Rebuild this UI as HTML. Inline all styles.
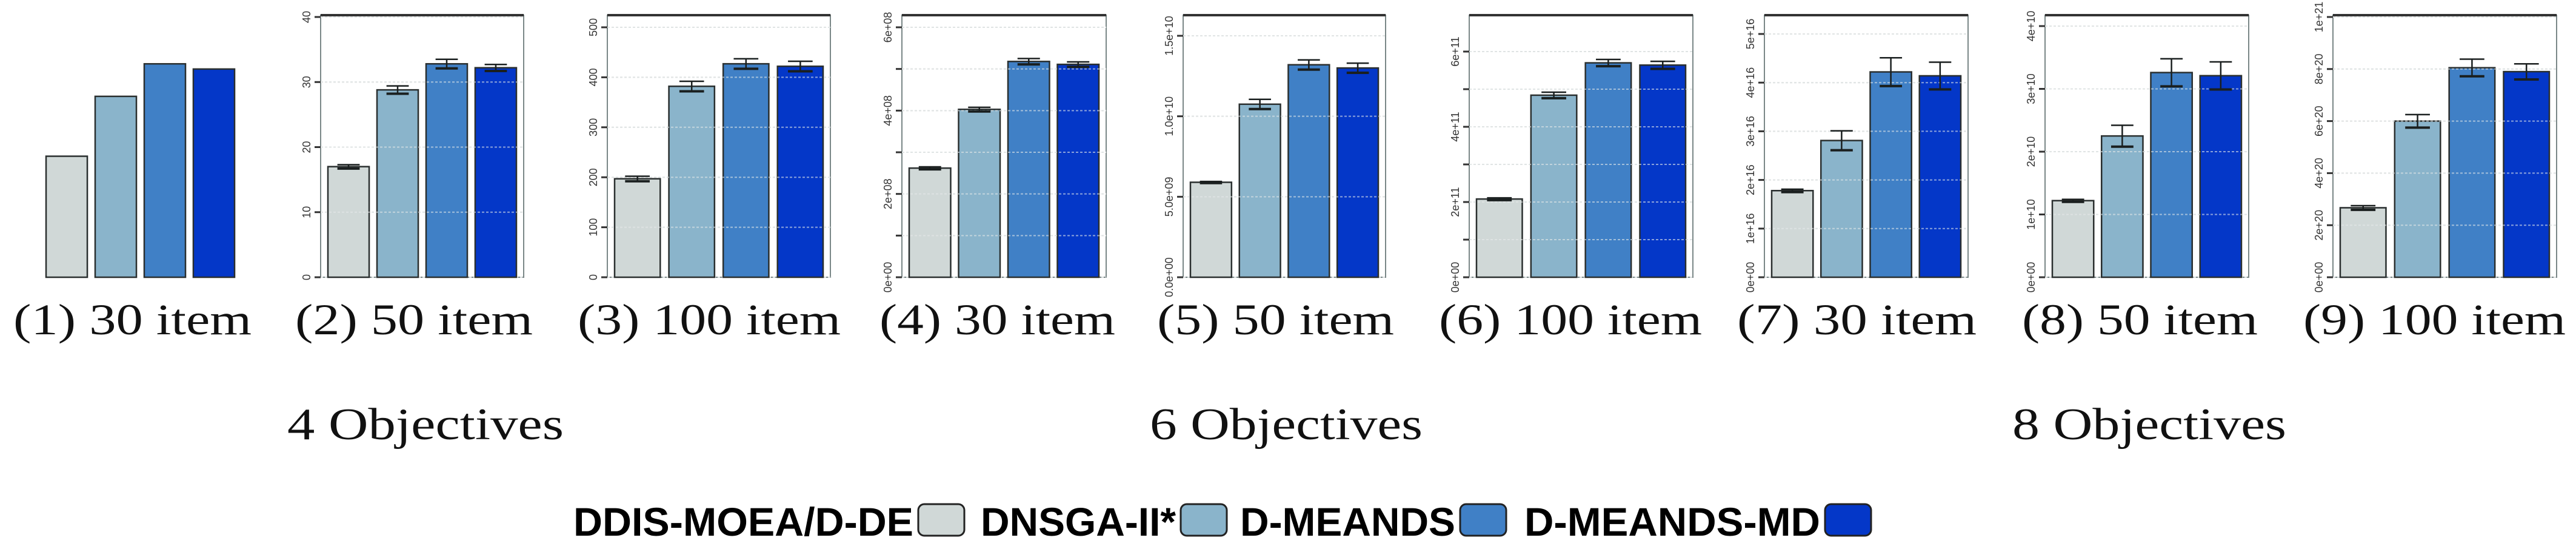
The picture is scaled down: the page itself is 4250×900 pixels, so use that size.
<!DOCTYPE html>
<html><head><meta charset="utf-8"><style>
html,body{margin:0;padding:0;background:#fff;}
svg{display:block;}
</style></head><body>
<svg id="chart" width="4250" height="900" viewBox="0 0 4250 900" xmlns="http://www.w3.org/2000/svg">
<g id="panels"></g>
<g font-family="Liberation Serif, serif" font-size="74" fill="#111">
<text x="474" y="724" textLength="456" lengthAdjust="spacingAndGlyphs">4 Objectives</text>
<text x="1897" y="724" textLength="450" lengthAdjust="spacingAndGlyphs">6 Objectives</text>
<text x="3320" y="724" textLength="452" lengthAdjust="spacingAndGlyphs">8 Objectives</text>
</g>
<g id="legend" font-family="Liberation Sans, sans-serif" font-weight="bold" font-size="66" fill="#000"></g>
</svg>
<script>
const series = ["DDIS-MOEA/D-DE","DNSGA-II*","D-MEANDS","D-MEANDS-MD"];
const colors = ["#d0d8d7","#8ab4cb","#4080c6","#0437c8"];
const captions = ["(1)  30 item","(2)  50 item","(3)  100 item","(4)  30 item","(5)  50 item","(6)  100 item","(7)  30 item","(8)  50 item","(9)  100 item"];
const v1 = [18.6, 27.8, 32.8, 32.0];
const v2 = [17.0, 28.8, 32.8, 32.2];
const e2 = [0.3, 0.6, 0.7, 0.5];
const v3 = [197, 382, 427, 422];
const e3 = [5, 10, 10, 10];
const v4 = [2.62e8, 4.03e8, 5.18e8, 5.11e8];
const e4 = [0.03e8, 0.05e8, 0.07e8, 0.06e8];
const v5 = [5.9e9, 1.075e10, 1.32e10, 1.30e10];
const e5 = [0.05e9, 0.3e9, 0.3e9, 0.3e9];
const v6 = [2.08e11, 4.84e11, 5.7e11, 5.64e11];
const e6 = [0.03e11, 0.08e11, 0.09e11, 0.1e11];
const v7 = [1.78e16, 2.81e16, 4.22e16, 4.14e16];
const e7 = [0.03e16, 0.2e16, 0.29e16, 0.28e16];
const v8 = [1.22e10, 2.25e10, 3.26e10, 3.21e10];
const e8 = [0.02e10, 0.17e10, 0.22e10, 0.22e10];
const v9 = [2.67e20, 6.0e20, 8.05e20, 7.9e20];
const e9 = [0.08e20, 0.25e20, 0.33e20, 0.3e20];
const t2 = [0,10,20,30,40];
const l2 = ["0","10","20","30","40"];
const t3 = [0,100,200,300,400,500];
const l3 = ["0","100","200","300","400","500"];
const t4 = [0,1e8,2e8,3e8,4e8,5e8,6e8];
const l4 = ["0e+00","","2e+08","","4e+08","","6e+08"];
const t5 = [0,5e9,1e10,1.5e10];
const l5 = ["0.0e+00","5.0e+09","1.0e+10","1.5e+10"];
const t6 = [0,1e11,2e11,3e11,4e11,5e11,6e11];
const l6 = ["0e+00","","2e+11","","4e+11","","6e+11"];
const t7 = [0,1e16,2e16,3e16,4e16,5e16];
const l7 = ["0e+00","1e+16","2e+16","3e+16","4e+16","5e+16"];
const t8 = [0,1e10,2e10,3e10,4e10];
const l8 = ["0e+00","1e+10","2e+10","3e+10","4e+10"];
const t9 = [0,2e20,4e20,6e20,8e20,1e21];
const l9 = ["0e+00","2e+20","4e+20","6e+20","8e+20","1e+21"];

const layout = [
 {x0:64,x1:399,top:25,refV:40,refY:28,axes:false,cx:22,cw:393,vals:v1,errs:null,ticks:null,labels:null},
 {x0:529,x1:864,top:25,refV:40,refY:28,axes:true,cx:487,cw:392,vals:v2,errs:e2,ticks:t2,labels:l2},
 {x0:1002,x1:1370,top:25,refV:500,refY:45,axes:true,cx:953,cw:434,vals:v3,errs:e3,ticks:t3,labels:l3},
 {x0:1488,x1:1825,top:25,refV:6e8,refY:45,axes:true,cx:1451,cw:389,vals:v4,errs:e4,ticks:t4,labels:l4},
 {x0:1952,x1:2286,top:25,refV:1.5e10,refY:59,axes:true,cx:1909,cw:391,vals:v5,errs:e5,ticks:t5,labels:l5},
 {x0:2424,x1:2793,top:25,refV:6e11,refY:85,axes:true,cx:2374,cw:434,vals:v6,errs:e6,ticks:t6,labels:l6},
 {x0:2911,x1:3247,top:25,refV:5e16,refY:56,axes:true,cx:2866,cw:395,vals:v7,errs:e7,ticks:t7,labels:l7},
 {x0:3374,x1:3710,top:25,refV:4e10,refY:43,axes:true,cx:3336,cw:389,vals:v8,errs:e8,ticks:t8,labels:l8},
 {x0:3849,x1:4218,top:25,refV:1e21,refY:28,axes:true,cx:3800,cw:433,vals:v9,errs:e9,ticks:t9,labels:l9}
];
const BASE = 457;
const NS = "http://www.w3.org/2000/svg";
function mk(tag, attrs, parent){
  const el = document.createElementNS(NS, tag);
  for (const k in attrs) el.setAttribute(k, attrs[k]);
  parent.appendChild(el);
  return el;
}
const root = document.getElementById('panels');
layout.forEach((p, pi) => {
  const g = mk('g', {}, root);
  
  
  const yS = v => BASE - v * (BASE - p.refY) / p.refV;
  const W = p.x1 - p.x0, pad = 12;
  const bw = (W - 2*pad) / (4 + 3*0.19), gap = bw*0.19;
  const bx = i => p.x0 + pad + i*(bw+gap);
  if (p.axes) {
    const box = mk('rect', {x:p.x0, y:p.top, width:W, height:BASE-p.top, fill:'#fff', stroke:'#7a8787', 'stroke-width':2}, g);
    
    
    const tl = mk('line', {x1:p.x0, x2:p.x1, y1:p.top, y2:p.top, stroke:'#333', 'stroke-width':4}, g);
    
    
    p.ticks.forEach((t, ti) => {
      const y = yS(t);
      const gl = mk('line', {x1:p.x0, x2:p.x1, y1:y, y2:y, stroke:'#d8dcdc', 'stroke-width':2, 'stroke-dasharray':'4 3'}, g);
      
      
      const tk = mk('line', {x1:p.x0-10, x2:p.x0, y1:y, y2:y, stroke:'#333', 'stroke-width':3}, g);
      
      
      if (p.labels[ti]) {
        const tx = mk('text', {x:0, y:0, transform:'translate('+(p.x0-17)+','+y+') rotate(-90)', 'text-anchor':'middle', 'font-family':'Liberation Sans, sans-serif', 'font-size':18, fill:'#333'}, g);
        tx.textContent = p.labels[ti];
        
        
      }
    });
  }
  p.vals.forEach((v, i) => {
    const y = yS(v);
    const r = mk('rect', {x:bx(i), y:y, width:bw, height:BASE-y, fill:colors[i], stroke:'#2a2f2f', 'stroke-width':2.5}, g);
    
    
  });
  if (p.axes) {
    p.ticks.forEach((t) => {
      const y = yS(t);
      if (y >= BASE - 1) return;
      const ol = mk('line', {x1:p.x0, x2:p.x1, y1:y, y2:y, stroke:'#e6eaea', 'stroke-opacity':0.6, 'stroke-width':2, 'stroke-dasharray':'4 3'}, g);
      
      
    });
  }
  p.vals.forEach((v, i) => {
    if (!p.errs) return;
    const cx = bx(i) + bw/2, cw = bw*0.27;
    const y1 = yS(v + p.errs[i]), y2 = yS(v - p.errs[i]);
    const eg = mk('g', {stroke:'#1a1f1f', 'stroke-width':2.5}, g);
    
    
    mk('line', {x1:cx, x2:cx, y1:y1, y2:y2}, eg);
    mk('line', {x1:cx-cw, x2:cx+cw, y1:y1, y2:y1}, eg);
    mk('line', {x1:cx-cw, x2:cx+cw, y1:y2, y2:y2, 'stroke-width':4}, eg);
  });
  const cap = mk('text', {x:p.cx, y:551, 'font-family':'Liberation Serif, serif', 'font-size':72, fill:'#111', textLength:p.cw, lengthAdjust:'spacingAndGlyphs', 'xml:space':'preserve'}, g);
  cap.textContent = captions[pi];
  
  
});
const legX = [946, 1618, 2046, 2515];
const legW = [561, 322, 355, 488];
const leg = document.getElementById('legend');
series.forEach((s, i) => {
  const g = mk('g', {}, leg);
  
  
  const t = mk('text', {x:legX[i], y:883, textLength:legW[i], lengthAdjust:'spacingAndGlyphs'}, g);
  t.textContent = s;
  
  
  const sx = legX[i] + legW[i] + 8;
  const sw = mk('rect', {x:sx, y:831, width:76, height:52, rx:10, fill:colors[i], stroke:'#222', 'stroke-width':3}, g);
  
  
});
</script>
</body></html>
